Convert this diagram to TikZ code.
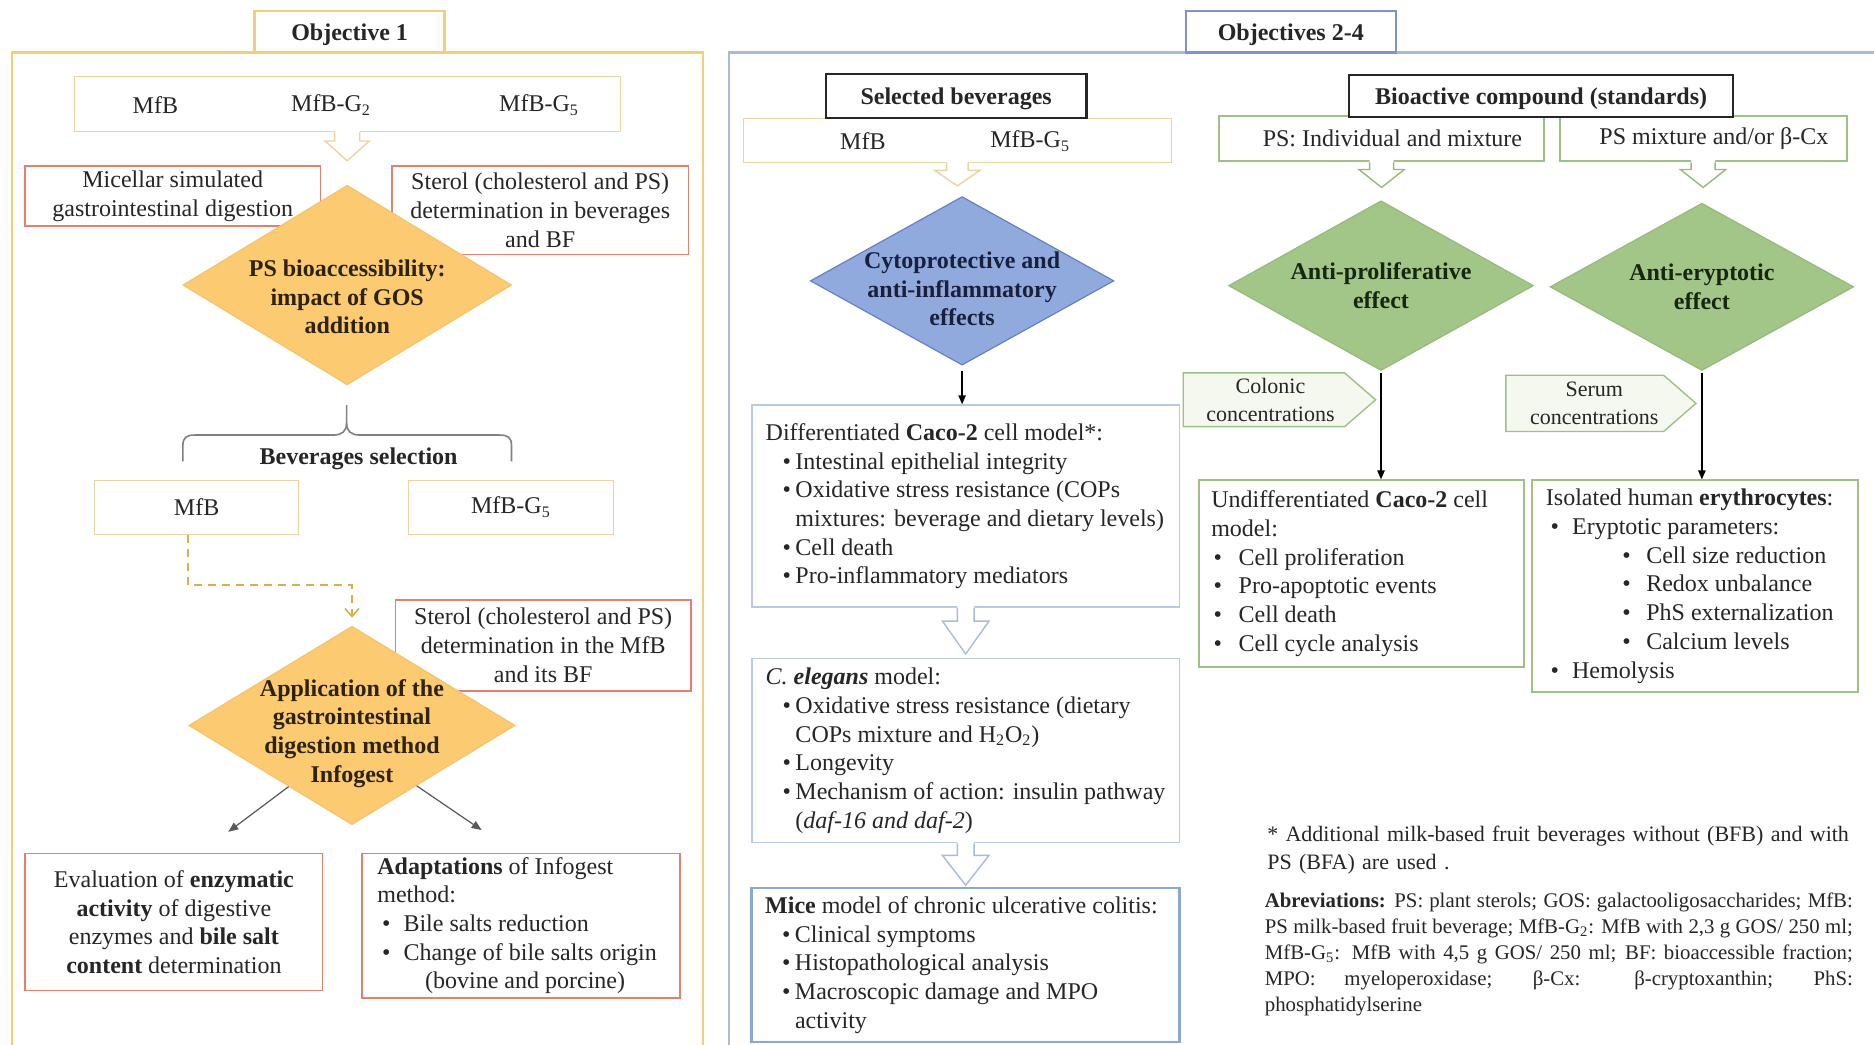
\documentclass[tikz,border=0pt]{standalone}
\usepackage{fontspec}
\setmainfont{Liberation Serif}
\usetikzlibrary{shapes.geometric,arrows.meta,calc}
\definecolor{txt}{RGB}{38,38,38}
\definecolor{goldline}{RGB}{242,208,120}
\definecolor{tanline}{RGB}{236,212,160}
\definecolor{redline}{RGB}{228,128,112}
\definecolor{orangefill}{RGB}{252,202,112}
\definecolor{orangeline}{RGB}{244,196,110}
\definecolor{dashgold}{RGB}{214,176,80}
\definecolor{panelblue}{RGB}{168,188,216}
\definecolor{tabblue}{RGB}{128,146,200}
\definecolor{boxblue}{RGB}{186,202,224}
\definecolor{miceblue}{RGB}{140,168,208}
\definecolor{arrowblue}{RGB}{170,188,214}
\definecolor{bluefill}{RGB}{145,170,222}
\definecolor{blueline}{RGB}{100,130,200}
\definecolor{greenfill}{RGB}{162,198,136}
\definecolor{greenline}{RGB}{150,186,124}
\definecolor{greenbox}{RGB}{160,192,136}
\definecolor{palegreen}{RGB}{244,248,238}
\definecolor{dtxtor}{RGB}{45,35,15}
\definecolor{dtxtbl}{RGB}{25,32,60}
\definecolor{dtxtgr}{RGB}{22,38,15}
\newcommand\pxu{0.5976pt}
\newcommand\itm[2]{\hspace*{#1}\makebox[#2][l]{\textbullet}}
\newcommand\hollowarr[6]{%
 \begin{scope}[shift={(#2.south)}]
 \fill[white] (-#5,-2) -- (-#5,#3) -- (-#6,#3) -- (0,#4) -- (#6,#3) -- (#5,#3) -- (#5,-2) -- cycle;
 \draw[#1, line width=0.7pt, line join=miter] (-#5,0) -- (-#5,#3) -- (-#6,#3) -- (0,#4) -- (#6,#3) -- (#5,#3) -- (#5,0);
 \end{scope}}
\begin{document}
\begin{tikzpicture}[x=0.5976pt, y=-0.5976pt, font=\fontsize{12}{14.34}\selectfont, text=txt,
 sz/.style 2 args={minimum width=#1*\pxu, minimum height=#2*\pxu},
 box/.style={draw, line width=0.6pt, fill=white, inner sep=0pt, align=center},
 tanbox/.style={box, draw=tanline},
 redbox/.style={box, draw=redline, line width=0.7pt},
 bluebox/.style={box, draw=boxblue, line width=0.8pt},
 grbox/.style={box, draw=greenbox, line width=1pt},
 blkbox/.style={box, draw=black!85, line width=1.1pt, text depth=0pt, font=\fontsize{12}{14.34}\selectfont\bfseries},
 dia/.style={diamond, inner sep=0pt, line width=0.6pt},
 dtext/.style={align=center, font=\fontsize{12}{14.34}\selectfont\bfseries, inner sep=0pt},
 arr/.style={-{Triangle[length=4.5pt,width=3.6pt]}, line width=0.8pt, black},
 darr/.style={-{Triangle[length=5pt,width=4pt]}, line width=0.6pt, black!65},
 txtnode/.style={inner sep=0pt},
 ltxt/.style={inner sep=0pt, anchor=west, align=left}
]
\useasboundingbox (0,0) rectangle (1568,874);
\begin{scope}
\clip (0,0) rectangle (1568,874);
\fill[white] (0,0) rectangle (1568,874);
% panels
\draw[goldline, line width=1.2pt] (10,900) -- (10,44) -- (588,44) -- (588,900);
\draw[panelblue, line width=1.2pt] (610,900) -- (610,44) -- (1600,44);
\node[box, draw=goldline, line width=1.2pt, sz={159}{35}, text depth=0pt, font=\fontsize{12}{14.34}\selectfont\bfseries] (tab1) at (292.5,26.5) {Objective 1};
\node[box, draw=tabblue, line width=1.1pt, sz={176}{35}, text depth=0pt, font=\fontsize{12}{14.34}\selectfont\bfseries] (tab2) at (1080,26.5) {Objectives 2-4};

% ---------- left panel ----------
\node[tanbox, sz={457}{46}] (topL) at (290.5,87) {};
\node[txtnode] (tl1) at (130,88) {MfB};
\node[txtnode] (tl2) at (277,88) {MfB-G\textsubscript{2}};
\node[txtnode] (tl3) at (451,88) {MfB-G\textsubscript{5}};
\hollowarr{tanline}{topL}{7.5}{24}{10.5}{18.5}

\node[redbox, sz={247}{50}] (micel) at (144.5,164) {Micellar simulated\\gastrointestinal digestion};
\node[redbox, sz={248}{74}] (ster1) at (452,176) {Sterol (cholesterol and PS)\\determination in beverages\\and BF};
\node[dia, fill=orangefill, draw=orangeline, sz={275}{167},
  label={[dtext, text=dtxtor, yshift=-6pt]center:{PS bioaccessibility:\\impact of GOS\\addition}}] (d1) at (290.5,238.5) {};

% brace
\draw[black!50, line width=0.8pt] (153,386) -- (153,373) .. controls (153,366) and (156,364) .. (163,364) -- (279,364) .. controls (286,364) and (290,361) .. (290,354) -- (290,339);
\draw[black!50, line width=0.8pt] (290,354) .. controls (290,361) and (294,364) .. (301,364) -- (418,364) .. controls (425,364) and (428,366) .. (428,373) -- (428,386);
\node[txtnode, text depth=0pt, font=\fontsize{12}{14.34}\selectfont\bfseries] (bevsel) at (300,382) {Beverages selection};

\node[tanbox, sz={171}{45}] (mfbL) at (164.5,424.5) {MfB};
\node[tanbox, sz={171}{45}] (mfbG) at (427.5,424.5) {MfB-G\textsubscript{5}};

\node[redbox, sz={247}{76}] (ster2) at (454.5,540) {Sterol (cholesterol and PS)\\determination in the MfB\\and its BF};
\node[dia, fill=orangefill, draw=orangeline, sz={273}{166},
  label={[dtext, text=dtxtor, yshift=-4pt]center:{Application of the\\gastrointestinal\\digestion method\\Infogest}}] (d2) at (294.5,607) {};

\draw[dashgold, line width=0.8pt, dash pattern=on 4pt off 3pt, -{Straight Barb[length=4pt,width=7pt]}, shorten >=4pt]
  ($(mfbL.south)+(-7,0)$) |- ($(d2.north)+(0,-34)$) -- (d2.north);

\coordinate (e1) at (191,696);
\coordinate (e2) at (403,694.5);
\draw[darr] (d2.224) -- (e1);
\draw[darr] (d2.317) -- (e2);

\node[redbox, sz={249}{115}] (evalb) at (145.5,771.5) {Evaluation of \textbf{enzymatic}\\\textbf{activity} of digestive\\enzymes and \textbf{bile salt}\\\textbf{content} determination};
\node[redbox, sz={266}{121}] (adapt) at (436,774.5) {};
\node[ltxt] (adaptT) at ($(adapt.west)+(13,0)$)
 {\textbf{Adaptations} of Infogest\\method:\\\itm{2.4pt}{10.7pt}Bile salts reduction\\\itm{2.4pt}{10.7pt}Change of bile salts origin\\\hspace*{23.9pt}(bovine and porcine)};

% ---------- right panel: middle column ----------
\node[tanbox, sz={358}{37}] (topM) at (801,117.5) {};
\node[txtnode] (tm1) at (722,118) {MfB};
\node[txtnode] (tm2) at (862,118) {MfB-G\textsubscript{5}};
\node[blkbox, sz={218}{37}] (selbev) at (800,80.5) {Selected beverages};
\hollowarr{tanline}{topM}{6}{19}{9}{19}

\node[dia, fill=bluefill, draw=blueline, sz={254}{141},
  label={[dtext, text=dtxtbl, yshift=-4pt]center:{Cytoprotective and\\anti-inflammatory\\effects}}] (d3) at (805,235) {};

\node[bluebox, sz={358}{169}] (diff) at (808,423.5) {};
\node[ltxt] (diffT) at ($(diff.west)+(12,0)$)
 {Differentiated \textbf{Caco-2} cell model*:\\
 \itm{8.4pt}{6.5pt}Intestinal epithelial integrity\\
 \itm{8.4pt}{6.5pt}Oxidative stress resistance (COPs\\
 \hspace*{14.9pt}mixtures: beverage and dietary levels)\\
 \itm{8.4pt}{6.5pt}Cell death\\
 \itm{8.4pt}{6.5pt}Pro-inflammatory mediators};
\draw[arr, shorten <=2.5pt] (d3.south) -- (d3.south |- diff.north);

\node[bluebox, sz={358}{154}] (eleg) at (808,628) {};
\node[ltxt] (elegT) at ($(eleg.west)+(12,0)$)
 {\textit{C. \textbf{elegans}} model:\\
 \itm{8.4pt}{6.5pt}Oxidative stress resistance (dietary\\
 \hspace*{14.9pt}COPs mixture and H\textsubscript{2}O\textsubscript{2})\\
 \itm{8.4pt}{6.5pt}Longevity\\
 \itm{8.4pt}{6.5pt}Mechanism of action: insulin pathway\\
 \hspace*{14.9pt}(\textit{daf-16 and daf-2})};
\hollowarr{arrowblue}{diff}{11}{38.5}{7}{19.5}

\node[box, draw=miceblue, line width=1.3pt, sz={358}{129}] (mice) at (808,807.5) {};
\node[ltxt] (miceT) at ($(mice.west)+(12,0)$)
 {\textbf{Mice} model of chronic ulcerative colitis:\\
 \itm{8.4pt}{6.5pt}Clinical symptoms\\
 \itm{8.4pt}{6.5pt}Histopathological analysis\\
 \itm{8.4pt}{6.5pt}Macroscopic damage and MPO\\
 \hspace*{14.9pt}activity};
\hollowarr{arrowblue}{eleg}{10}{35}{7}{19.5}

% ---------- right columns ----------
\node[grbox, sz={272}{38}] (psind) at (1156,116) {\hspace*{10.8pt}PS: Individual and mixture};
\node[grbox, sz={240}{38}] (psmix) at (1425,116) {\hspace*{10.8pt}PS mixture and/or β-Cx};
\node[blkbox, sz={321}{35}] (bioact) at (1289.5,80.5) {Bioactive compound (standards)};
\hollowarr{greenline}{psind}{6}{21}{10}{19}
\hollowarr{greenline}{psmix}{6}{21}{10}{19}

\node[dia, fill=greenfill, draw=greenline, sz={255}{142},
  label={[dtext, text=dtxtgr]center:{Anti-proliferative\\effect}}] (d4) at (1155.5,239) {};
\node[dia, fill=greenfill, draw=greenline, sz={254}{140},
  label={[dtext, text=dtxtgr]center:{Anti-eryptotic\\effect}}] (d5) at (1424,240) {};

\draw[greenbox, fill=palegreen, line width=0.7pt] (990,312) -- (1125,312) -- (1151,334.5) -- (1125,357) -- (990,357) -- cycle;
\node[txtnode, align=center, font=\fontsize{11}{13.7}\selectfont] (colon) at (1063,334.5) {Colonic\\concentrations};
\draw[greenbox, fill=palegreen, line width=0.7pt] (1260,314) -- (1392,314) -- (1419,337.5) -- (1392,361) -- (1260,361) -- cycle;
\node[txtnode, align=center, font=\fontsize{11}{13.7}\selectfont] (serum) at (1334,337.5) {Serum\\concentrations};

\node[grbox, sz={272}{156}] (undiff) at (1139,480) {};
\node[ltxt] (undiffT) at ($(undiff.west)+(11,0)$)
 {Undifferentiated \textbf{Caco-2} cell\\model:\\
 \itm{1.2pt}{12.5pt}Cell proliferation\\
 \itm{1.2pt}{12.5pt}Pro-apoptotic events\\
 \itm{1.2pt}{12.5pt}Cell death\\
 \itm{1.2pt}{12.5pt}Cell cycle analysis};
\node[grbox, sz={273}{177}] (isol) at (1418.5,490.5) {};
\node[ltxt] (isolT) at ($(isol.west)+(12,0)$)
 {Isolated human \textbf{erythrocytes}:\\
 \itm{2.4pt}{10.7pt}Eryptotic parameters:\\
 \itm{38.2pt}{12pt}Cell size reduction\\
 \itm{38.2pt}{12pt}Redox unbalance\\
 \itm{38.2pt}{12pt}PhS externalization\\
 \itm{38.2pt}{12pt}Calcium levels\\
 \itm{2.4pt}{10.7pt}Hemolysis};
\draw[arr, shorten <=1pt] (d4.south) -- (d4.south |- undiff.north);
\draw[arr, shorten <=1pt] (d5.south) -- (d5.south |- isol.north);

\node[txtnode, anchor=north west, text width=294pt, align=left, font=\fontsize{11}{13.7}\selectfont] (foot) at (1060,691)
 {* Additional milk-based fruit beverages without (BFB) and with PS (BFA) are used .};
\node[txtnode, anchor=north west, text width=294pt, align=justify, font=\fontsize{10.4}{12.9}\selectfont] (abbr) at (1058,747)
 {\textbf{Abreviations:} PS: plant sterols; GOS: galactooligosaccharides; MfB:\linebreak
 PS milk-based fruit beverage; MfB-G\textsubscript{2}: MfB with 2,3 g GOS/ 250 ml;\linebreak
 MfB-G\textsubscript{5}: MfB with 4,5 g GOS/ 250 ml; BF: bioaccessible fraction;\linebreak
 MPO: myeloperoxidase; β-Cx: β-cryptoxanthin; PhS:\linebreak
 phosphatidylserine};
\end{scope}
\end{tikzpicture}
\end{document}
